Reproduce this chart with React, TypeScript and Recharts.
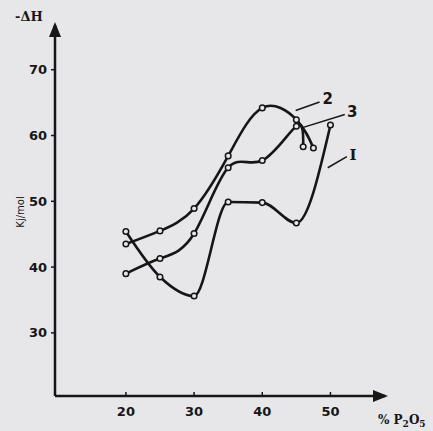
import { Line, LineChart, ReferenceDot, ReferenceLine, XAxis, YAxis } from "recharts";

// % P2O5 composition points and -ΔH values (kJ/mol) per curve
const xCurveI = [20, 25, 30, 35, 40, 45, 50];
const yCurveI = [45.4, 38.5, 35.6, 49.9, 49.8, 46.7, 61.6];
const xCurve2 = [20, 25, 30, 35, 40, 45, 47.5];
const yCurve2 = [43.5, 45.5, 48.9, 56.9, 64.2, 62.4, 58.1];
const xCurve3 = [20, 25, 30, 35, 40, 45, 46];
const yCurve3 = [39.0, 41.3, 45.1, 55.1, 56.2, 61.4, 58.3];

const xTicks = [20, 30, 40, 50];
const yTicks = [30, 40, 50, 60, 70];

// curve name labels with leader lines (data coordinates)
const curveLabels = ["2", "3", "I"];
const leaderFrom = [[44.9, 63.8], [45.9, 61.2], [49.6, 55.1]];
const leaderTo = [[48.4, 65.1], [52.1, 63.2], [52.4, 56.8]];
const labelAt = [[49.6, 65.6], [53.2, 63.6], [53.3, 57.1]];
const labelFont = ["DejaVu Sans", "DejaVu Sans", "DejaVu Serif"];

const toPoints = (xs: number[], ys: number[]) => xs.map((x, i) => ({ x, y: ys[i] }));

const ink = "#161616";
const paper = "#e7e7ea";

const dot = { r: 2.8, stroke: ink, strokeWidth: 1.5, fill: paper };

export default function App() {
  return (
    <div style={{ position: "absolute", left: 0, top: 0, width: 433, height: 431, background: paper, fontFamily: "DejaVu Sans" }}>
      <svg width={0} height={0} style={{ position: "absolute" }}>
        <defs>
          <marker id="arrow" viewBox="0 0 10 10" refX="8" refY="5" markerWidth="6" markerHeight="6" orient="auto-start-reverse">
            <path d="M0,1 L10,5 L0,9 Z" fill={ink} />
          </marker>
        </defs>
      </svg>
      <LineChart width={433} height={431} margin={{ top: 25, right: 48, bottom: 5, left: 15 }}>
        <XAxis
          type="number"
          dataKey="x"
          domain={[9.6, 58]}
          ticks={xTicks}
          allowDataOverflow
          height={30}
          tickSize={-4}
          tickMargin={15}
          axisLine={{ stroke: ink, strokeWidth: 2.5, markerEnd: "url(#arrow)" }}
          tickLine={{ stroke: ink, strokeWidth: 1.5 }}
          tick={{ fill: ink, fontSize: 13, fontWeight: "bold" }}
        />
        <YAxis
          type="number"
          domain={[20.4, 76.8]}
          ticks={yTicks}
          allowDataOverflow
          width={40}
          tickSize={4}
          tickMargin={4}
          axisLine={{ stroke: ink, strokeWidth: 2.5, markerStart: "url(#arrow)" }}
          tickLine={{ stroke: ink, strokeWidth: 1.5 }}
          tick={{ fill: ink, fontSize: 13, fontWeight: "bold" }}
        />
        <Line data={toPoints(xCurveI, yCurveI)} dataKey="y" type="monotone" stroke={ink} strokeWidth={2.6} dot={dot} isAnimationActive={false} />
        <Line data={toPoints(xCurve2, yCurve2)} dataKey="y" type="natural" stroke={ink} strokeWidth={2.6} dot={dot} isAnimationActive={false} />
        <Line data={toPoints(xCurve3, yCurve3)} dataKey="y" type="natural" stroke={ink} strokeWidth={2.6} dot={dot} isAnimationActive={false} />
        {curveLabels.map((name, i) => (
          <ReferenceLine
            key={"l" + name}
            segment={[{ x: leaderFrom[i][0], y: leaderFrom[i][1] }, { x: leaderTo[i][0], y: leaderTo[i][1] }]}
            stroke={ink}
            strokeWidth={1.5}
          />
        ))}
        {curveLabels.map((name, i) => (
          <ReferenceDot
            key={"d" + name}
            x={labelAt[i][0]}
            y={labelAt[i][1]}
            r={0}
            fill="none"
            stroke="none"
            label={{ value: name, position: "center", fill: ink, fontSize: 15, fontWeight: "bold", fontFamily: labelFont[i] }}
          />
        ))}
      </LineChart>
      <div style={{ position: "absolute", left: 15, top: 9, fontFamily: "DejaVu Serif", fontWeight: "bold", fontSize: 13, color: ink }}>
        -ΔH
      </div>
      <div
        style={{
          position: "absolute",
          left: 20,
          top: 212,
          transform: "translate(-50%, -50%) rotate(-90deg)",
          fontSize: 10,
          color: ink,
          whiteSpace: "nowrap",
        }}
      >
        Kj/mol
      </div>
      <div style={{ position: "absolute", left: 378, top: 413, fontFamily: "DejaVu Serif", fontWeight: "bold", fontSize: 12, color: ink, whiteSpace: "nowrap" }}>
        % P<sub style={{ fontSize: 9 }}>2</sub>O<sub style={{ fontSize: 9 }}>5</sub>
      </div>
    </div>
  );
}
